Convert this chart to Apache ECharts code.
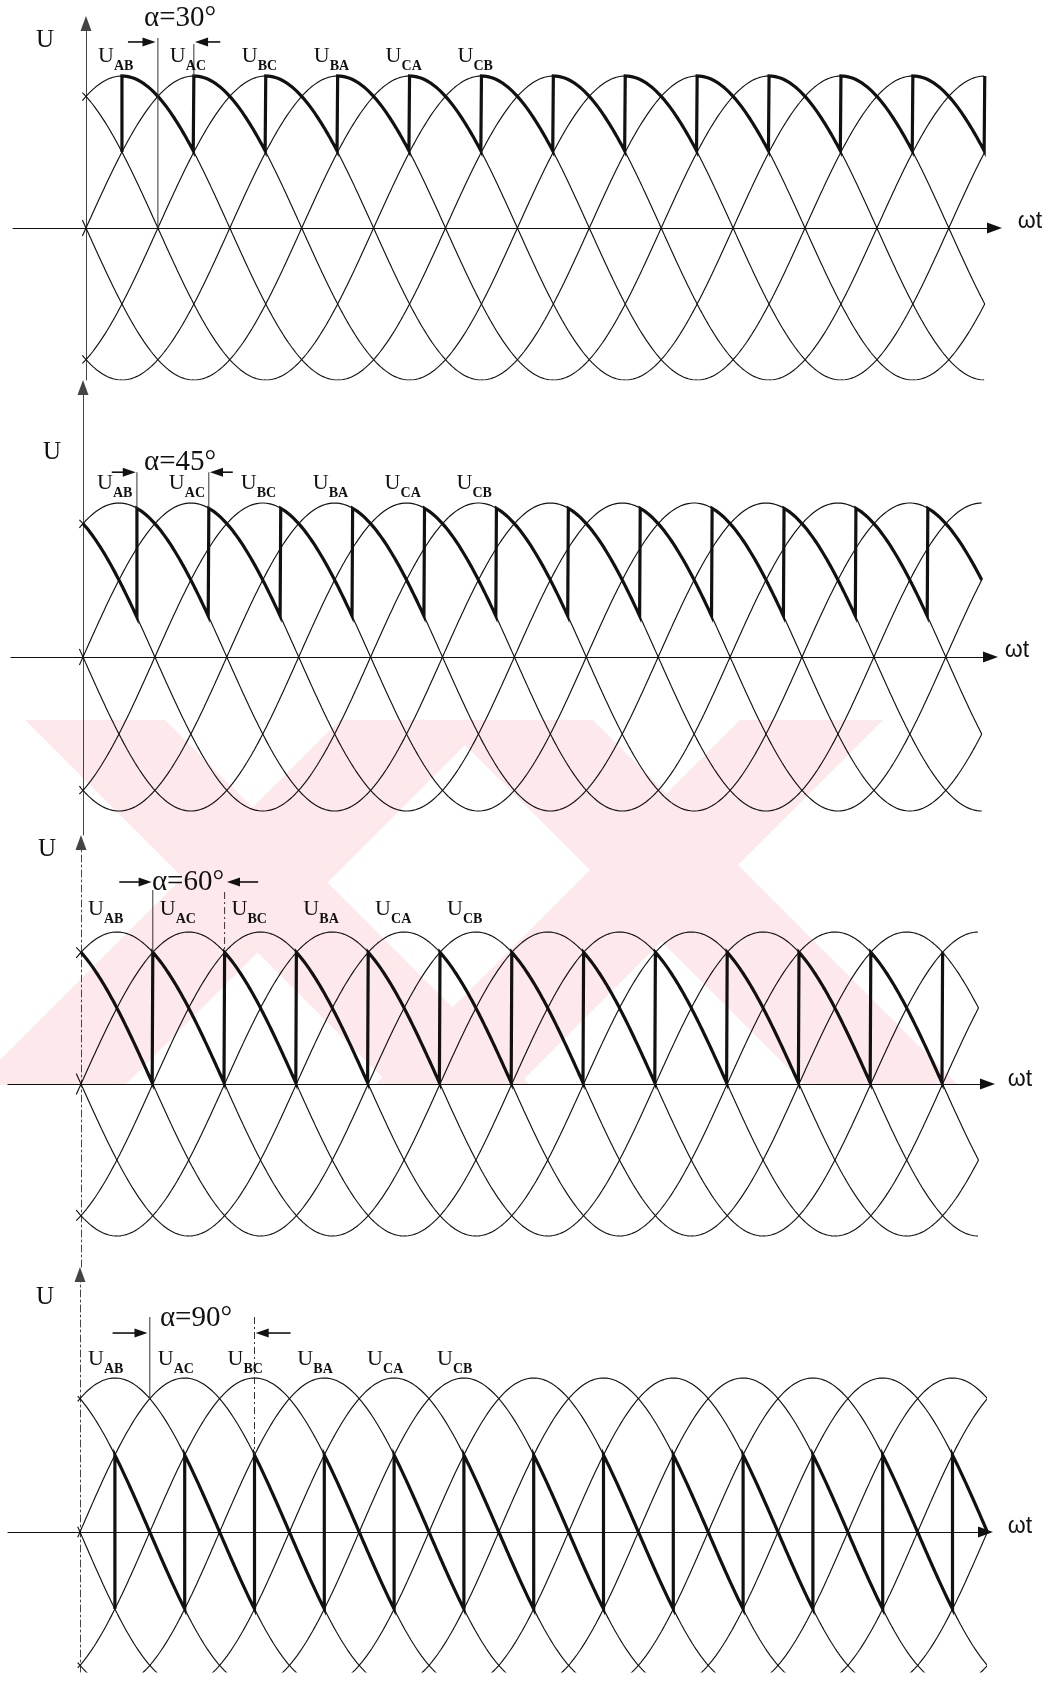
<!DOCTYPE html>
<html>
<head>
<meta charset="utf-8">
<script src="https://cdn.jsdelivr.net/npm/echarts/dist/echarts.min.js"></script>
<style>
  html, body { margin: 0; padding: 0; background: #fff; }
  #chart { width: 1058px; height: 1688px; }
</style>
</head>
<body>
<div id="chart"></div>
<script>
// ---------------- data ----------------
// the six line voltages of the bridge, in firing order
const LINE_VOLTAGES = ['AB', 'AC', 'BC', 'BA', 'CA', 'CB'];
// electrical angle (deg) of each line voltage's positive peak
const PEAK_DEG = [30, 90, 150, 210, 270, 330];
// firing delay angle of each panel
const ALPHA_DEG = [30, 45, 60, 90];
const ALPHA_TEXT = ['α=30°', 'α=45°', 'α=60°', 'α=90°'];
// ωt range (deg) over which the six thin supply curves are drawn
const CURVE_SPAN = [[-3, 750], [-3, 750], [-4, 750], [-2, 786]];
// ωt range (deg) of the heavy rectified output trace
const OUTPUT_SPAN = [[30, 750], [0, 750], [0, 720], [30, 780]];
// whether the output trace opens with the commutation jump at its first angle
const OUTPUT_OPENING_JUMP = [true, true, false, true];
// α dimension: the two marker lines (deg) and where they stop (per-unit voltage)
const MARK_DEG = [[60, 90], [45, 105], [60, 120], [60, 150]];
const MARK_TOP = [[1.25, 1.21], [1.2, 1.2], [1.276, 1.263], [1.396, 1.396]];
const MARK_BOTTOM = [[0, 1.0], [0.966, 0.966], [0.866, 0.866], [0.866, 0.5]];
const MARK_DASHED = [[false, false], [false, false], [false, true], [false, true]];
// pointer arrows of the α dimension: [tail, tip] in deg, and their height
const ARROW_RIGHT = [[35, 58], [24, 44], [32, 59], [28, 58]];
const ARROW_LEFT = [[112, 91], [125, 106], [148, 122], [181, 151]];
const ARROW_LEVEL = [1.224, 1.2, 1.329, 1.292];
// position of the α caption (deg, per-unit)
const ALPHA_POS = [[78.5, 1.38], [81, 1.266], [89.4, 1.329], [99.7, 1.39]];
const X_NAME = 'ωt';
const Y_NAME = 'U';

// ---------------- layout ----------------
const LAYOUT = [
  { x0: 86, pxPerDeg: 71.9 / 60, y0: 228,  amp: 152, top: 16,   bottom: 380,  left: 13, right: 1002 },
  { x0: 83, pxPerDeg: 71.9 / 60, y0: 657,  amp: 154, top: 380,  bottom: 835,  left: 11, right: 998 },
  { x0: 81, pxPerDeg: 71.8 / 60, y0: 1084, amp: 152, top: 835,  bottom: 1267, left: 8,  right: 995 },
  { x0: 80, pxPerDeg: 69.8 / 60, y0: 1532, amp: 154, top: 1267, bottom: 1672, left: 8,  right: 993 }
];
const Y_AXIS_DASH = [null, null, [7, 3, 2, 3], [7, 3, 2, 3]];
const Y_NAME_AT = [[45, 40], [52, 452], [47, 849], [45, 1297]];
const X_NAME_AT = [[1030, 222], [1017, 651], [1020, 1080], [1020, 1527]];
const LABEL_LEVEL = [1.128, 1.13, 1.148, 1.123];
const LABEL_DX = [-24, -22, -29, -27];
const ARROW_HEAD = [11, 15];

const SERIF = '"Liberation Serif", "Times New Roman", serif';
const SANS = '"Liberation Sans", Arial, sans-serif';
const INK = '#111';

const rad = d => d * Math.PI / 180;
// peak angle of the j-th voltage in the firing sequence (j may be negative)
const peakOf = j => PEAK_DEG[((j % 6) + 6) % 6] + 360 * Math.floor(j / 6);
const volt = (peak, th) => Math.cos(rad(th - peak));

function supplyCurve(k, span) {
  const pts = [];
  for (let th = span[0]; th <= span[1] + 1e-9; th += 0.5) pts.push([th, volt(PEAK_DEG[k], th)]);
  return pts;
}

// rectified output: each voltage conducts from its firing instant (60j + α) to the next one
function outputTrace(alpha, span, openingJump) {
  const [s, e] = span;
  let j = Math.floor((s - alpha) / 60);
  const pts = [];
  const isFiring = th => Math.abs(((th - alpha) % 60 + 60) % 60) < 1e-9;
  if (isFiring(s) && openingJump) pts.push([s, volt(peakOf(j - 1), s)]);
  pts.push([s, volt(peakOf(j), s)]);
  let th = s;
  while (th < e) {
    const nextFire = 60 * (j + 1) + alpha;
    const stop = Math.min(nextFire, e);
    for (let t = th + 0.5; t < stop - 1e-9; t += 0.5) pts.push([t, volt(peakOf(j), t)]);
    pts.push([stop, volt(peakOf(j), stop)]);
    if (stop === nextFire) {
      pts.push([stop, volt(peakOf(j + 1), stop)]);
      j++;
    }
    th = stop;
  }
  return pts;
}

// ---------------- chart ----------------
const chart = echarts.init(document.getElementById('chart'), null, { renderer: 'canvas' });
const grid = [], xAxis = [], yAxis = [], series = [];
const half = ARROW_HEAD[1] / 2;

LAYOUT.forEach((L, p) => {
  const top = L.top + half;
  const right = L.right - half;
  grid.push({ left: L.left, top: top, width: right - L.left, height: L.bottom - top,
              containLabel: false, outerBoundsMode: 'none', show: false });
  xAxis.push({
    type: 'value', gridIndex: p,
    min: (L.left - L.x0) / L.pxPerDeg, max: (right - L.x0) / L.pxPerDeg,
    axisLine: { onZero: true, symbol: ['none', 'triangle'], symbolSize: ARROW_HEAD,
                lineStyle: { color: INK, width: 1.2 } },
    axisTick: { show: false }, axisLabel: { show: false }, splitLine: { show: false }
  });
  yAxis.push({
    type: 'value', gridIndex: p,
    min: -(L.bottom - L.y0) / L.amp, max: (L.y0 - top) / L.amp,
    axisLine: { onZero: true, symbol: ['none', 'triangle'], symbolSize: ARROW_HEAD,
                lineStyle: { color: '#444', width: 1, type: Y_AXIS_DASH[p] || 'solid' } },
    axisTick: { show: false }, axisLabel: { show: false }, splitLine: { show: false }
  });
  LINE_VOLTAGES.forEach((name, k) => {
    series.push({
      name: 'U' + name, type: 'line', xAxisIndex: p, yAxisIndex: p,
      data: supplyCurve(k, CURVE_SPAN[p]), showSymbol: false, symbol: 'none',
      lineStyle: { color: INK, width: 1.15 }, silent: true, z: 3
    });
  });
  series.push({
    name: 'Ud', type: 'line', xAxisIndex: p, yAxisIndex: p,
    data: outputTrace(ALPHA_DEG[p], OUTPUT_SPAN[p], OUTPUT_OPENING_JUMP[p]), showSymbol: false, symbol: 'none',
    lineStyle: { color: INK, width: 3.2, cap: 'butt', join: 'miter' }, silent: true, z: 4
  });
});

chart.setOption({ animation: false, backgroundColor: '#fff', grid, xAxis, yAxis, series });

// ---------------- annotations ----------------
const toPx = (p, th, v) => chart.convertToPixel({ gridIndex: p }, [th, v]);
const g = [];

// faint diagonal watermark bands
const BAND_TOP = 720, BAND_BOTTOM = 1085, RUN = BAND_BOTTOM - BAND_TOP;
[[25, 165, 1], [340, 490, -1], [440, 593, 1], [740, 883, -1]].forEach(([a, b, dir]) => {
  g.push({ type: 'polygon', z: -10, silent: true,
    shape: { points: [[a, BAND_TOP], [b, BAND_TOP], [b + dir * RUN, BAND_BOTTOM], [a + dir * RUN, BAND_BOTTOM]] },
    style: { fill: '#fde8ec' } });
});

function text(x, y, str, font, align) {
  g.push({ type: 'text', x, y, z: 100, silent: true,
    style: { text: str, font, fill: INK, align: align || 'center', verticalAlign: 'middle',
             textAlign: align || 'center', textVerticalAlign: 'middle' } });
}
function arrow(p, tail, tip, v) {
  const a = toPx(p, tail, v), b = toPx(p, tip, v);
  const dir = Math.sign(b[0] - a[0]);
  const len = 13, hw = 4.5;
  g.push({ type: 'line', z: 100, silent: true,
    shape: { x1: a[0], y1: a[1], x2: b[0] - dir * len * 0.6, y2: b[1] },
    style: { stroke: INK, lineWidth: 1.6 } });
  g.push({ type: 'polygon', z: 100, silent: true,
    shape: { points: [[b[0], b[1]], [b[0] - dir * len, b[1] - hw], [b[0] - dir * len, b[1] + hw]] },
    style: { fill: INK } });
}

LAYOUT.forEach((L, p) => {
  text(Y_NAME_AT[p][0], Y_NAME_AT[p][1], Y_NAME, `25px ${SERIF}`);
  text(X_NAME_AT[p][0], X_NAME_AT[p][1], X_NAME, `23px ${SANS}`);

  // voltage names above their peaks
  LINE_VOLTAGES.forEach((name, k) => {
    const pt = toPx(p, PEAK_DEG[k], LABEL_LEVEL[p]);
    const x = pt[0] + LABEL_DX[p];
    text(x, pt[1], 'U', `22px ${SERIF}`, 'left');
    text(x + 16, pt[1] + 10, name, `bold 14px ${SERIF}`, 'left');
  });

  // α dimension
  const c = toPx(p, ALPHA_POS[p][0], ALPHA_POS[p][1]);
  text(c[0], c[1], ALPHA_TEXT[p], `29px ${SERIF}`);
  MARK_DEG[p].forEach((th, i) => {
    const a = toPx(p, th, MARK_TOP[p][i]), b = toPx(p, th, MARK_BOTTOM[p][i]);
    g.push({ type: 'line', z: 90, silent: true,
      shape: { x1: a[0], y1: a[1], x2: b[0], y2: b[1] },
      style: { stroke: '#333', lineWidth: 1, lineDash: MARK_DASHED[p][i] ? [7, 3, 2, 3] : null } });
  });
  arrow(p, ARROW_RIGHT[p][0], ARROW_RIGHT[p][1], ARROW_LEVEL[p]);
  arrow(p, ARROW_LEFT[p][0], ARROW_LEFT[p][1], ARROW_LEVEL[p]);
});

chart.setOption({ graphic: { elements: g } });
</script>
</body>
</html>
